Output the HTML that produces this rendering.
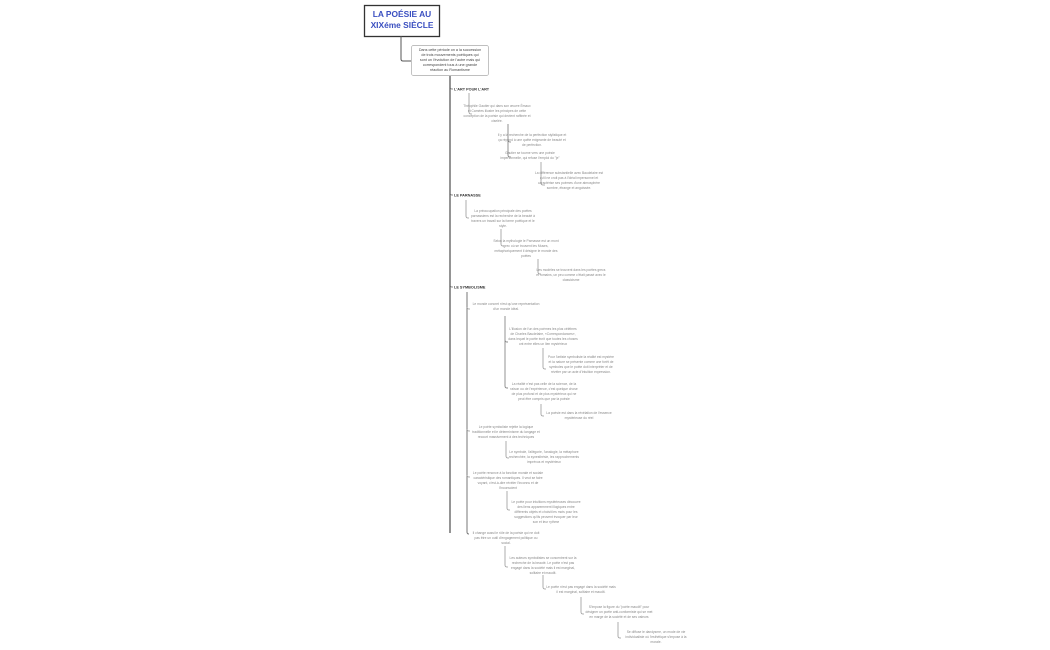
<!DOCTYPE html>
<html><head><meta charset="utf-8"><style>
html,body{margin:0;padding:0;background:#fff;width:1050px;height:650px;overflow:hidden}
svg{display:block}
.t{font-family:"Liberation Sans",sans-serif;font-size:3.3px;fill:#8a8a8a;text-anchor:middle}
.h{font-family:"Liberation Sans",sans-serif;font-size:3.8px;fill:#333;font-weight:bold}
.c{fill:none;stroke:#999;stroke-width:0.8}
</style></head><body>
<svg width="1050" height="650" viewBox="0 0 1050 650">
<rect x="364.5" y="5.5" width="75" height="31" fill="#fff" stroke="#333" stroke-width="1.3"/>
<text x="402" y="17" font-family="Liberation Sans,sans-serif" font-size="8.4" font-weight="bold" fill="#3a4fc0" text-anchor="middle">LA POÉSIE AU</text>
<text x="402" y="28" font-family="Liberation Sans,sans-serif" font-size="8.4" font-weight="bold" fill="#3a4fc0" text-anchor="middle">XIXéme SIÈCLE</text>
<path d="M401,36 V59 Q401,61 403,61 H411" fill="none" stroke="#555" stroke-width="1"/>
<rect x="411.5" y="45.5" width="77" height="30" rx="2" fill="#fff" stroke="#aaa" stroke-width="0.7"/>
<g class="t" style="font-size:3.7px;fill:#444">
<text x="450" y="51">Dans cette période on a la succession</text>
<text x="450" y="56">de trois mouvements poétiques qui</text>
<text x="450" y="61">sont un l'évolution de l'autre mais qui</text>
<text x="450" y="66">correspondent tous à une grande</text>
<text x="450" y="71">réaction au Romantisme</text>
</g>
<path d="M450,76 V533" stroke="#666" stroke-width="1.4" fill="none"/>
<path d="M450,87 Q450,89 452,89 H453" class="c" style="stroke:#666"/>
<path d="M450,193 Q450,195 452,195 H453" class="c" style="stroke:#666"/>
<path d="M450,285 Q450,287 452,287 H453" class="c" style="stroke:#666"/>
<text class="h" x="454" y="90.5">L'ART POUR L'ART</text>
<text class="h" x="454" y="196.5">LE PARNASSE</text>
<text class="h" x="454" y="288.5">LE SYMBOLISME</text>

<path class="c" d="M469,93 V112 Q469,114 471,114 H472"/>
<g class="t"><text x="497" y="107">Théophile Gautier qui dans son œuvre Émaux</text><text x="497" y="112">et Camées illustre les principes de cette</text><text x="497" y="117">conception de la poésie qui devient raffinée et</text><text x="497" y="122">ciselée.</text></g>
<path class="c" d="M508,124 V155 Q508,157 510,157 H511 M508,140 Q508,142 510,142 H511" style="stroke:#777"/>
<g class="t"><text x="532" y="136">Il y a la recherche de la perfection stylistique et</text><text x="532" y="141">ça répond à une quête exigeante de beauté et</text><text x="532" y="146">de perfection.</text></g>
<g class="t"><text x="530" y="154">Gautier se tourne vers une poésie</text><text x="530" y="159">impersonnelle, qui refuse l'emploi du "je"</text></g>
<path class="c" d="M541,162 V183 Q541,185 543,185 H545"/>
<g class="t"><text x="569" y="174">La différence substantielle avec Baudelaire est</text><text x="569" y="179">qu'il ne croit pas à l'idéal impersonnel et</text><text x="569" y="184">caractérise ses poèmes d'une atmosphère</text><text x="569" y="189">sombre, étrange et angoissée.</text></g>

<path class="c" d="M466,200 V216 Q466,218 468,218 H469"/>
<g class="t"><text x="503" y="212">La préoccupation principale des poètes</text><text x="503" y="217">parnassiens est la recherche de la beauté à</text><text x="503" y="222">travers un travail sur la forme poétique et le</text><text x="503" y="227">style.</text></g>
<path class="c" d="M501,229 V244 Q501,246 503,246 H504"/>
<g class="t"><text x="526" y="242">Selon la mythologie le Parnasse est un mont</text><text x="526" y="247">grec où se trouvent les Muses,</text><text x="526" y="252">métaphoriquement il désigne le monde des</text><text x="526" y="257">poètes</text></g>
<path class="c" d="M538,259 V272 Q538,274 540,274 H541"/>
<g class="t"><text x="571" y="271">Les modèles se trouvent dans les poètes grecs</text><text x="571" y="276">et romains, un peu comme c'était passé avec le</text><text x="571" y="281">classicisme</text></g>

<path d="M467,292 V532 Q467,534 469,534" stroke="#777" stroke-width="1" fill="none"/>
<path class="c" d="M467,307 Q467,309 469,309 H470 M467,429 Q467,431 469,431 H470 M467,475 Q467,477 469,477 H470"/>
<g class="t"><text x="506" y="305">Le monde concret n'est qu'une représentation</text><text x="506" y="310">d'un monde idéal.</text></g>
<path d="M505,316 V386 Q505,388 507,388 H508 M505,340 Q505,342 507,342 H508" stroke="#888" stroke-width="0.9" fill="none"/>
<g class="t"><text x="543" y="330">L'illusion de l'un des poèmes les plus célèbres</text><text x="543" y="335">de Charles Baudelaire, «Correspondances»,</text><text x="543" y="340">dans lequel le poète écrit que toutes les choses</text><text x="543" y="345">ont entre elles un lien mystérieux</text></g>
<path class="c" d="M543,348 V367 Q543,369 545,369 H546"/>
<g class="t"><text x="581" y="358">Pour l'artiste symboliste la réalité est mystère</text><text x="581" y="363">et la nature se présente comme une forêt de</text><text x="581" y="368">symboles que le poète doit interpréter et de</text><text x="581" y="373">révéler par un acte d'intuition expression.</text></g>
<g class="t"><text x="544" y="385">La réalité n'est pas celle de la science, de la</text><text x="544" y="390">raison ou de l'expérience, c'est quelque chose</text><text x="544" y="395">de plus profond et de plus mystérieux qui ne</text><text x="544" y="400">peut être compris que par la poésie</text></g>
<path class="c" d="M541,404 V414 Q541,416 543,416 H544"/>
<g class="t"><text x="579" y="414">La poésie est dans la révélation de l'essence</text><text x="579" y="419">mystérieuse du réel</text></g>
<g class="t"><text x="506" y="428">Le poète symboliste rejette la logique</text><text x="506" y="433">traditionnelle et le déterminisme du langage et</text><text x="506" y="438">recourt massivement à des techniques</text></g>
<path class="c" d="M506,441 V456 Q506,458 508,458 H509"/>
<g class="t"><text x="544" y="453">Le symbole, l'allégorie, l'analogie, la métaphore</text><text x="544" y="458">recherchée, la synesthésie, les rapprochements</text><text x="544" y="463">imprévus et mystérieux</text></g>
<g class="t"><text x="508" y="474">Le poète renonce à la fonction morale et sociale</text><text x="508" y="479">caractéristique des romantiques. Il veut se faire</text><text x="508" y="484">voyant, c'est-à-dire révéler l'inconnu et de</text><text x="508" y="489">l'inconscient</text></g>
<path class="c" d="M507,491 V508 Q507,510 509,510 H510"/>
<g class="t"><text x="546" y="503">Le poète pour intuitions mystérieuses découvre</text><text x="546" y="508">des liens apparemment illogiques entre</text><text x="546" y="513">différents objets et choisit les mots pour les</text><text x="546" y="518">suggestions qu'ils peuvent évoquer par leur</text><text x="546" y="523">son et leur rythme</text></g>
<g class="t"><text x="506" y="534">Il change aussi le rôle de la poésie qui ne doit</text><text x="506" y="539">pas être un outil d'engagement politique ou</text><text x="506" y="544">social.</text></g>
<path class="c" d="M505,546 V565 Q505,567 507,567 H508"/>
<g class="t"><text x="543" y="559">Les auteurs symbolistes se concentrent sur la</text><text x="543" y="564">recherche de la beauté. Le poète n'est pas</text><text x="543" y="569">engagé dans la société mais il est marginal,</text><text x="543" y="574">solitaire et maudit.</text></g>
<path class="c" d="M543,575 V587 Q543,589 545,589 H546"/>
<g class="t"><text x="581" y="588">Le poète n'est pas engagé dans la société mais</text><text x="581" y="593">il est marginal, solitaire et maudit.</text></g>
<path class="c" d="M581,597 V612 Q581,614 583,614 H584"/>
<g class="t"><text x="619" y="608">S'impose la figure du "poète maudit" pour</text><text x="619" y="613">désigner un poète anti-conformiste qui se met</text><text x="619" y="618">en marge de la société et de ses valeurs</text></g>
<path class="c" d="M618,622 V636 Q618,638 620,638 H621"/>
<g class="t"><text x="656" y="633">Se diffuse le dandysme, un mode de vie</text><text x="656" y="638">individualiste où l'esthétique s'impose à la</text><text x="656" y="643">morale.</text></g>
</svg>
</body></html>
